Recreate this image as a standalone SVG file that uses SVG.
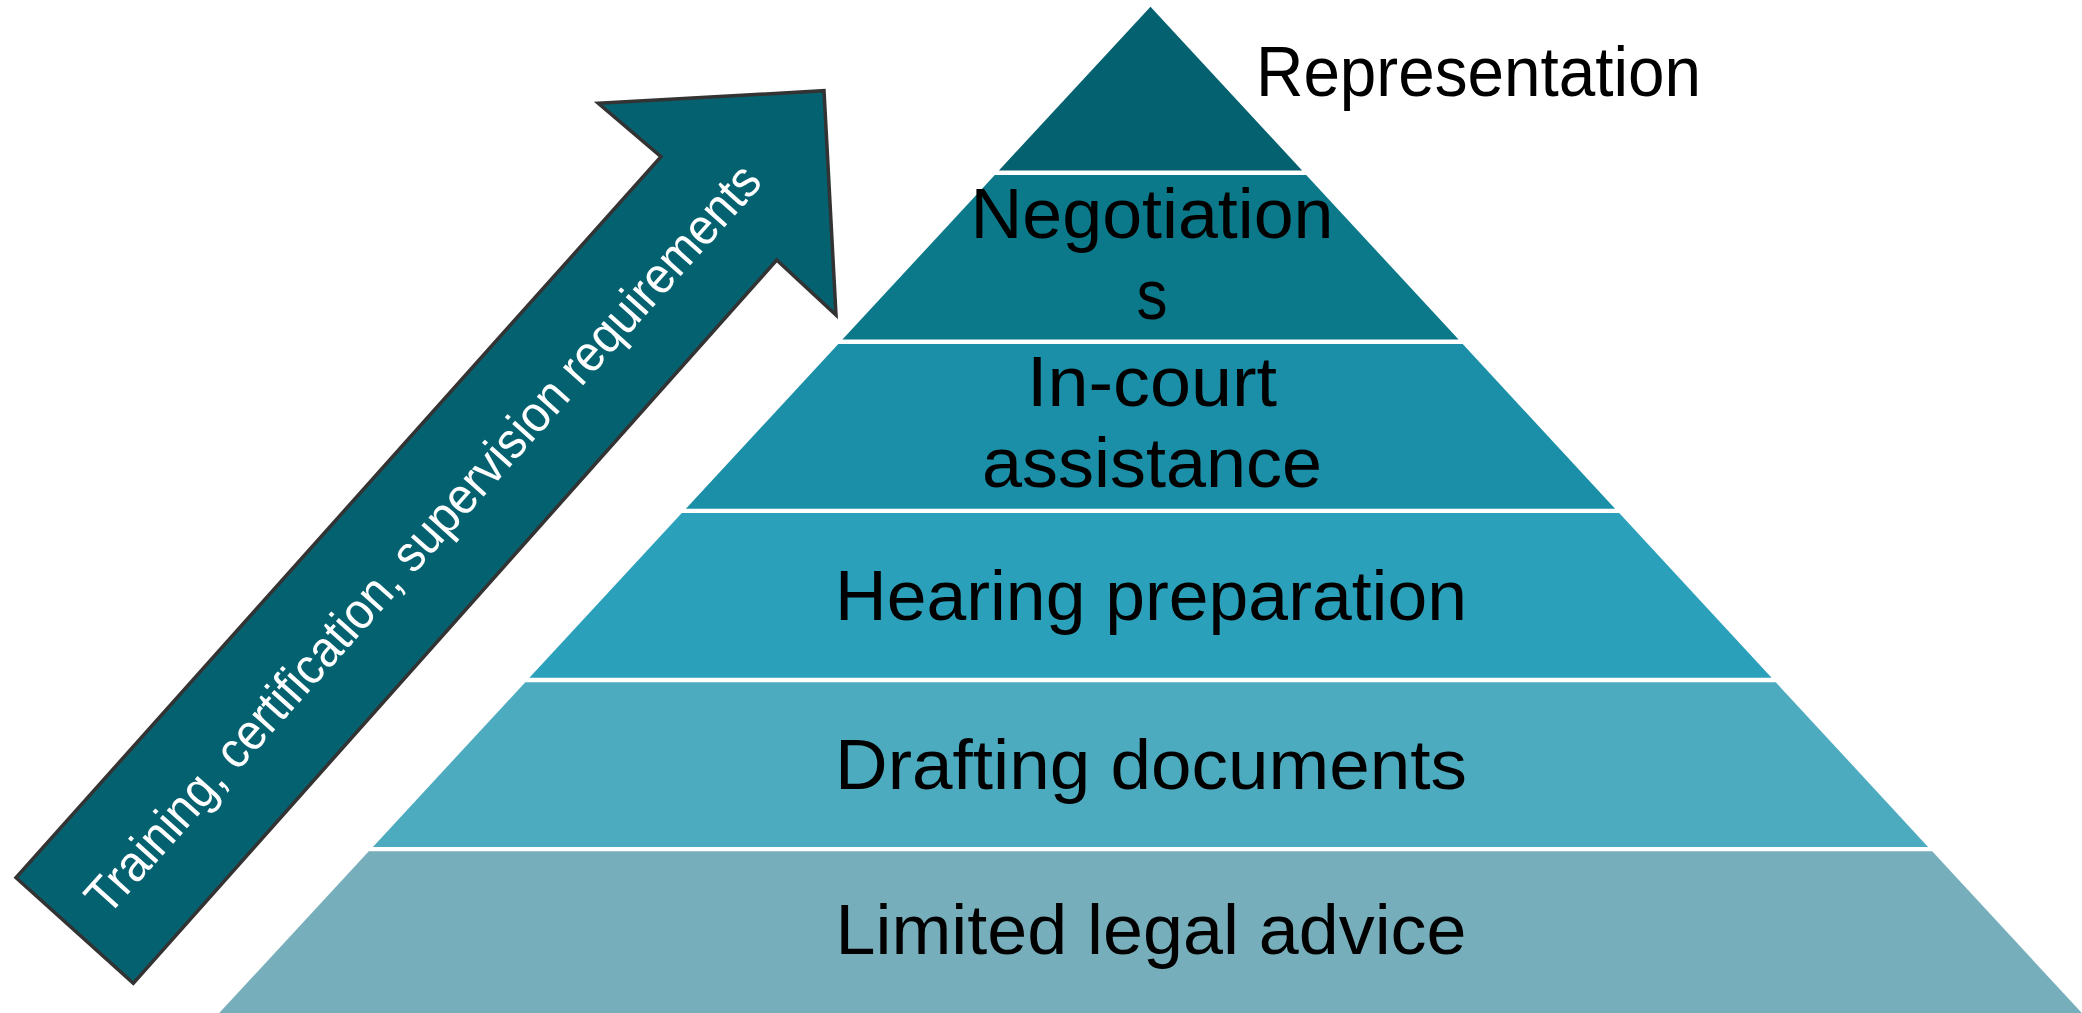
<svg xmlns="http://www.w3.org/2000/svg" width="2082" height="1013" viewBox="0 0 2082 1013">
  <style>
    .lbl { font-family: "Liberation Sans", Arial, sans-serif; font-size: 70px; fill: #000000; }
    .arrowtxt { font-family: "Liberation Sans", Arial, sans-serif; font-size: 51px; fill: #ffffff; }
  </style>
  <rect x="0" y="0" width="2082" height="1013" fill="#ffffff"/>

  <g id="level-representation">
    <polygon points="1150.5,6.7 1302.1,170.5 998.9,170.5" fill="#04616F"/>
    <text class="lbl" x="1256" y="96" font-size="72" textLength="445" lengthAdjust="spacingAndGlyphs">Representation</text>
  </g>

  <g id="level-negotiations">
    <polygon points="994.8,174.9 1306.2,174.9 1458.6,339.6 842.4,339.6" fill="#0B798A"/>
    <text class="lbl" x="1152" y="238" text-anchor="middle" textLength="363" lengthAdjust="spacingAndGlyphs">Negotiation</text>
    <text class="lbl" x="1152" y="319" text-anchor="middle" textLength="31" lengthAdjust="spacingAndGlyphs">s</text>
  </g>

  <g id="level-in-court">
    <polygon points="838.3,344.0 1462.7,344.0 1615.1,508.7 685.9,508.7" fill="#1A8FA7"/>
    <text class="lbl" x="1152" y="406" text-anchor="middle" textLength="250" lengthAdjust="spacingAndGlyphs">In-court</text>
    <text class="lbl" x="1152" y="487" text-anchor="middle" textLength="340" lengthAdjust="spacingAndGlyphs">assistance</text>
  </g>

  <g id="level-hearing">
    <polygon points="681.8,513.1 1619.2,513.1 1771.6,677.8 529.4,677.8" fill="#2BA0BA"/>
    <text class="lbl" x="1151" y="620" text-anchor="middle" textLength="632" lengthAdjust="spacingAndGlyphs">Hearing preparation</text>
  </g>

  <g id="level-drafting">
    <polygon points="525.3,682.2 1775.7,682.2 1928.1,846.9 372.9,846.9" fill="#4DABC0"/>
    <text class="lbl" x="1151" y="789" text-anchor="middle" textLength="632" lengthAdjust="spacingAndGlyphs">Drafting documents</text>
  </g>

  <g id="level-limited">
    <polygon points="368.8,851.3 1932.2,851.3 2081.8,1013 219.2,1013" fill="#76AFBB"/>
    <text class="lbl" x="1151" y="954" text-anchor="middle" textLength="631" lengthAdjust="spacingAndGlyphs">Limited legal advice</text>
  </g>

  <g id="arrow-requirements">
    <polygon points="16,877.7 661,156.7 598.3,103.3 824,90.7 836,315 776.7,260 133.3,983.3" fill="#04616F" stroke="#333333" stroke-width="3.5" stroke-linejoin="miter"/>
    <text class="arrowtxt" transform="translate(435.8,550) rotate(-48.2)" text-anchor="middle" textLength="985" lengthAdjust="spacingAndGlyphs">Training, certification, supervision requirements</text>
  </g>

  <g id="connectors"></g>
</svg>
